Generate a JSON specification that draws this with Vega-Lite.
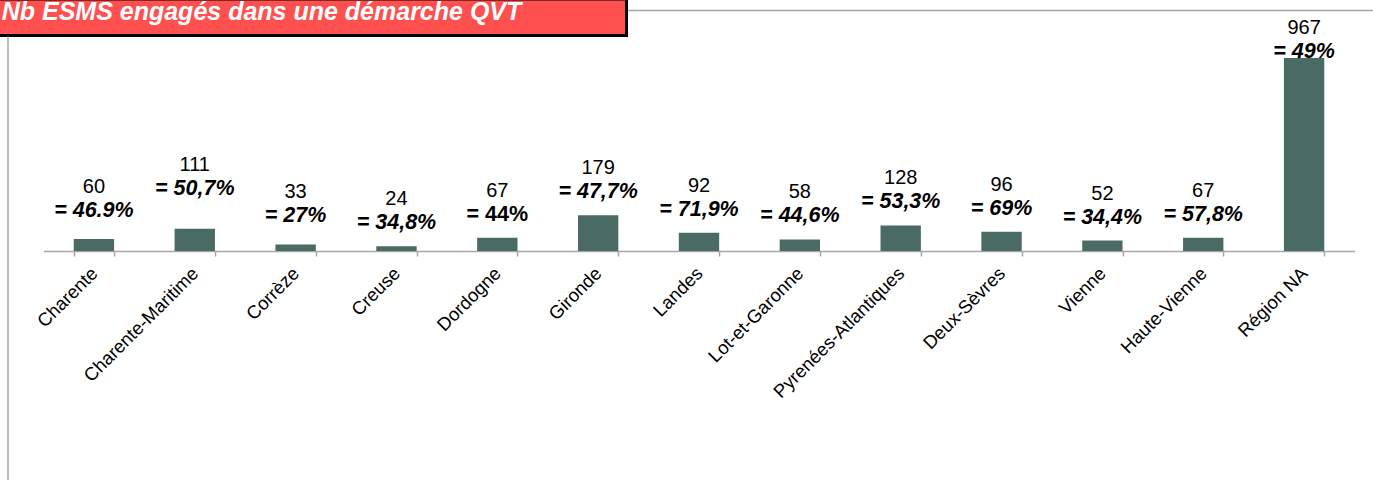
{
  "$schema": "https://vega.github.io/schema/vega-lite/v6.json",
  "padding": {"left": -9, "top": -3, "right": 0, "bottom": 0},
  "background": "white",
  "bounds": "flush",
  "spacing": 0,
  "config": {"view": {"stroke": null}, "font": "Liberation Sans"},
  "datasets": {
    "d": [
      {"dept": "Charente", "n": 60, "pct": "= 46.9%"},
      {"dept": "Charente-Maritime", "n": 111, "pct": "= 50,7%"},
      {"dept": "Corrèze", "n": 33, "pct": "= 27%"},
      {"dept": "Creuse", "n": 24, "pct": "= 34,8%"},
      {"dept": "Dordogne", "n": 67, "pct": "= 44%"},
      {"dept": "Gironde", "n": 179, "pct": "= 47,7%"},
      {"dept": "Landes", "n": 92, "pct": "= 71,9%"},
      {"dept": "Lot-et-Garonne", "n": 58, "pct": "= 44,6%"},
      {"dept": "Pyrenées-Atlantiques", "n": 128, "pct": "= 53,3%"},
      {"dept": "Deux-Sèvres", "n": 96, "pct": "= 69%"},
      {"dept": "Vienne", "n": 52, "pct": "= 34,4%"},
      {"dept": "Haute-Vienne", "n": 67, "pct": "= 57,8%"},
      {"dept": "Région NA", "n": 967, "pct": "= 49%"}
    ],
    "h": [{"title": "Nb ESMS engagés dans une démarche QVT"}],
    "z": [{"v": 0}]
  },
  "vconcat": [
    {
      "data": {"name": "h"},
      "width": 628.5,
      "height": 36.5,
      "view": {"fill": "#ff5050", "stroke": "#000000", "strokeWidth": 3},
      "mark": {"type": "text", "clip": true, "font": "Liberation Sans", "fontSize": 25, "fontWeight": "bold", "fontStyle": "italic", "color": "#ffffff", "align": "center", "baseline": "alphabetic", "dx": -50.75, "dy": 2.75},
      "encoding": {"text": {"field": "title"}}
    },
    {
      "width": 1402,
      "height": 447.5,
      "resolve": {"scale": {"x": "independent"}, "axis": {"x": "independent"}},
      "layer": [
        {
          "data": {"name": "d"},
          "encoding": {
            "x": {
              "field": "dept", "type": "nominal", "sort": null,
              "scale": {"range": [45.5, 1356.5], "paddingInner": 0.6, "paddingOuter": 0.3},
              "axis": {"title": null, "orient": "bottom", "offset": -232.5, "domainColor": "#a6a6a6", "domainWidth": 1.5, "tickColor": "#a6a6a6", "tickWidth": 1.5, "tickSize": 5, "tickBand": "extent", "labelAngle": -45, "labelAlign": "right", "labelBaseline": "middle", "labelFontSize": 18.5, "labelColor": "#000000", "labelFont": "Liberation Sans", "labelPadding": 14, "labelOffset": 0, "labelLimit": 400, "labelOverlap": false, "grid": false}
            },
            "y": {
              "field": "n", "type": "quantitative",
              "scale": {"domain": [-1164.9, 1077.2], "nice": false, "zero": false},
              "axis": {"orient": "left", "offset": -9.5, "labels": false, "ticks": false, "grid": false, "title": null, "domainColor": "#a6a6a6", "domainWidth": 1.5}
            }
          },
          "layer": [
            {"mark": {"type": "bar", "color": "#4a6b63"}, "encoding": {"y2": {"datum": 0}}},
            {
              "transform": [{"filter": {"field": "dept", "oneOf": ["Creuse", "Dordogne", "Gironde", "Landes", "Lot-et-Garonne", "Pyrenées-Atlantiques", "Deux-Sèvres", "Vienne", "Haute-Vienne"]}}],
              "mark": {"type": "text", "font": "Liberation Sans", "fontSize": 20, "color": "#000000", "baseline": "alphabetic", "dy": -41},
              "encoding": {"text": {"field": "n", "type": "quantitative"}}
            },
            {
              "transform": [{"filter": {"field": "dept", "oneOf": ["Creuse", "Gironde", "Landes", "Lot-et-Garonne", "Pyrenées-Atlantiques", "Deux-Sèvres", "Vienne", "Haute-Vienne"]}}],
              "mark": {"type": "text", "font": "Liberation Sans", "fontSize": 21.5, "fontWeight": "bold", "fontStyle": "italic", "color": "#000000", "baseline": "alphabetic", "dy": -17},
              "encoding": {"text": {"field": "pct"}}
            },
            {
              "transform": [{"filter": {"field": "dept", "equal": "Dordogne"}}],
              "mark": {"type": "text", "font": "Liberation Sans", "fontSize": 21.5, "fontWeight": "bold", "color": "#000000", "baseline": "alphabetic", "dy": -17},
              "encoding": {"text": {"field": "pct"}}
            },
            {
              "transform": [{"filter": {"field": "dept", "oneOf": ["Charente", "Corrèze"]}}],
              "mark": {"type": "text", "font": "Liberation Sans", "fontSize": 20, "color": "#000000", "baseline": "alphabetic", "dy": -46},
              "encoding": {"text": {"field": "n", "type": "quantitative"}}
            },
            {
              "transform": [{"filter": {"field": "dept", "oneOf": ["Charente", "Corrèze"]}}],
              "mark": {"type": "text", "font": "Liberation Sans", "fontSize": 21.5, "fontWeight": "bold", "fontStyle": "italic", "color": "#000000", "baseline": "alphabetic", "dy": -22},
              "encoding": {"text": {"field": "pct"}}
            },
            {
              "transform": [{"filter": {"field": "dept", "equal": "Charente-Maritime"}}],
              "mark": {"type": "text", "font": "Liberation Sans", "fontSize": 20, "color": "#000000", "baseline": "alphabetic", "dy": -58},
              "encoding": {"text": {"field": "n", "type": "quantitative"}}
            },
            {
              "transform": [{"filter": {"field": "dept", "equal": "Charente-Maritime"}}],
              "mark": {"type": "text", "font": "Liberation Sans", "fontSize": 21.5, "fontWeight": "bold", "fontStyle": "italic", "color": "#000000", "baseline": "alphabetic", "dy": -34},
              "encoding": {"text": {"field": "pct"}}
            },
            {
              "transform": [{"filter": {"field": "dept", "equal": "Région NA"}}],
              "mark": {"type": "text", "font": "Liberation Sans", "fontSize": 20, "color": "#000000", "baseline": "alphabetic", "dy": -24},
              "encoding": {"text": {"field": "n", "type": "quantitative"}}
            },
            {
              "transform": [{"filter": {"field": "dept", "equal": "Région NA"}}],
              "mark": {"type": "text", "font": "Liberation Sans", "fontSize": 21.5, "fontWeight": "bold", "fontStyle": "italic", "color": "#000000", "baseline": "alphabetic", "dy": 0},
              "encoding": {"text": {"field": "pct"}}
            }
          ]
        },
        {
          "data": {"name": "z"},
          "mark": {"type": "point", "opacity": 0},
          "encoding": {
            "x": {"field": "v", "type": "quantitative", "scale": {"range": [629.5, 1402]}, "axis": {"orient": "top", "offset": 26, "domainColor": "#a6a6a6", "domainWidth": 1.5, "ticks": false, "labels": false, "grid": false, "title": null}}
          }
        }
      ]
    }
  ]
}
